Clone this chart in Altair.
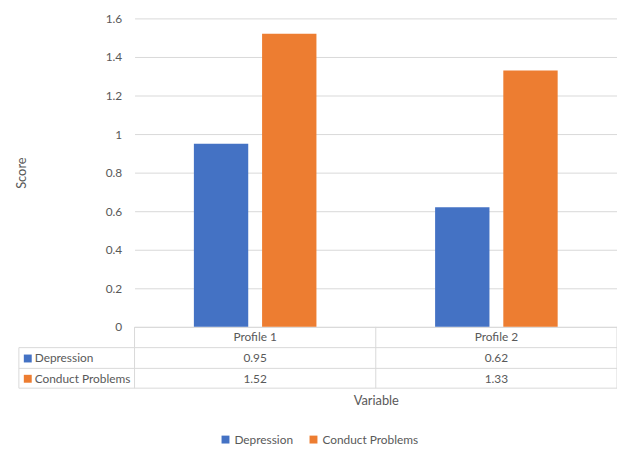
import altair as alt
import pandas as pd

profiles = ["Profile 1", "Profile 2"]
series = ["Depression", "Conduct Problems"]
depression = [0.95, 0.62]
conduct = [1.52, 1.33]
y_ticks = [0, 0.2, 0.4, 0.6, 0.8, 1, 1.2, 1.4, 1.6]
colors = ["#4472C4", "#ED7D31"]

rows = []
for p, d, c in zip(profiles, depression, conduct):
    rows.append({"profile": p, "series": "Depression", "score": d})
    rows.append({"profile": p, "series": "Conduct Problems", "score": c})
df = pd.DataFrame(rows)

FONT = "Lato"
GREY = "#595959"
LINE = "#d9d9d9"
W, H = 488, 312

color_enc = alt.Color(
    "series:N",
    scale=alt.Scale(domain=series, range=colors),
    legend=alt.Legend(
        title=None, orient="none", direction="horizontal",
        legendX=86, legendY=420, symbolType="square", symbolSize=64,
        symbolStrokeWidth=0, labelFont=FONT, labelFontSize=12, labelColor=GREY,
        columnPadding=14, labelOffset=3, padding=0,
    ),
)

base = alt.Chart(df)

bars = base.mark_bar().encode(
    x=alt.X(
        "profile:N",
        scale=alt.Scale(domain=profiles, paddingInner=0, paddingOuter=0),
        axis=alt.Axis(
            title="Variable", labelAngle=0, ticks=False, domainColor=LINE,
            labelFont=FONT, labelFontSize=12, labelColor=GREY, labelPadding=5,
            titleFont=FONT, titleFontSize=13, titleColor=GREY,
            titleFontWeight="normal", titlePadding=53,
        ),
    ),
    xOffset=alt.XOffset(
        "series:N",
        scale=alt.Scale(domain=series, paddingInner=0.203, paddingOuter=0.87),
    ),
    y=alt.Y(
        "score:Q",
        scale=alt.Scale(domain=[0, 1.6]),
        axis=alt.Axis(
            title="Score", values=y_ticks, format="~g", domain=False, ticks=False,
            gridColor=LINE, labelFont=FONT, labelFontSize=12, labelColor=GREY,
            labelPadding=13, titleFont=FONT, titleFontSize=13, titleColor=GREY,
            titleFontWeight="normal", titlePadding=78,
        ),
    ),
    color=color_enc,
)

frame = pd.DataFrame({"k": [0]})
rule = alt.Chart(frame).mark_rule(color=LINE, strokeWidth=1)
lines = []
for yy in [333, 354, 374]:
    lines.append(rule.encode(x=alt.value(-117), x2=alt.value(W), y=alt.value(yy)))
for xx in [0, 244, W]:
    lines.append(rule.encode(x=alt.value(xx), y=alt.value(H), y2=alt.value(374)))
lines.append(rule.encode(x=alt.value(-117), y=alt.value(333), y2=alt.value(374)))

table = []
row_y = {"Depression": 344, "Conduct Problems": 364.5}
for s in series:
    sub = base.transform_filter(alt.datum.series == s)
    table.append(
        sub.mark_text(font=FONT, fontSize=12, color=GREY).encode(
            x="profile:N",
            y=alt.value(row_y[s]),
            text=alt.Text("score:Q", format=".2f"),
        )
    )
    first = sub.transform_filter(alt.datum.profile == profiles[0])
    table.append(
        first.mark_text(font=FONT, fontSize=12, color=GREY, align="left").encode(
            x=alt.value(-101), y=alt.value(row_y[s]), text="series:N"
        )
    )
    table.append(
        first.mark_square(size=64, opacity=1).encode(
            x=alt.value(-108), y=alt.value(row_y[s]), color=color_enc
        )
    )

chart = alt.layer(bars, *lines, *table).properties(
    width=W, height=H,
    autosize=alt.AutoSizeParams(type="none"),
    padding={"left": 128, "top": 8, "right": 0, "bottom": 120},
).configure_view(stroke=None)

chart.save("out.html", embed_options={"renderer": "svg", "actions": False})
